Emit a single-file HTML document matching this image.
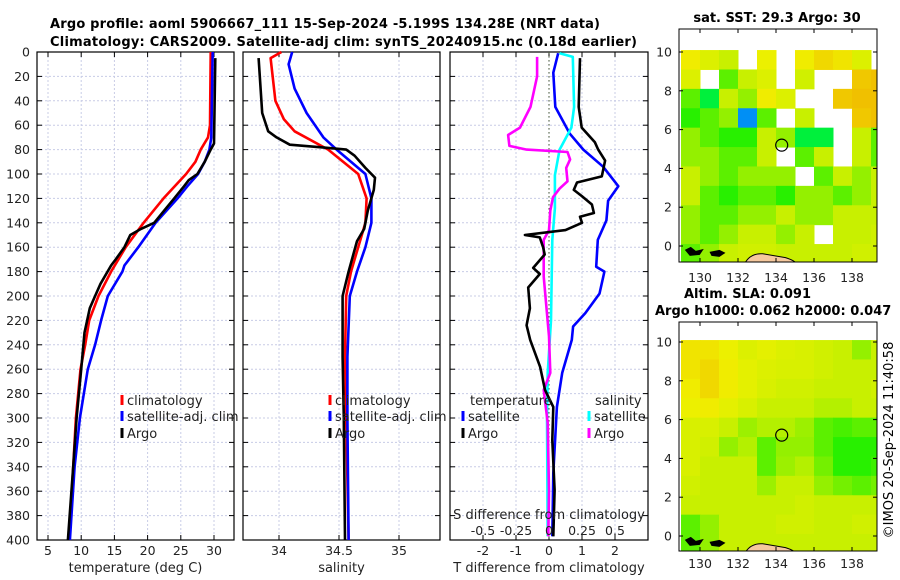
<!DOCTYPE html>
<html><head><meta charset="utf-8"><style>
html,body{margin:0;padding:0;background:#fff}
svg{display:block;font-family:"DejaVu Sans","Liberation Sans",sans-serif}
</style></head><body>
<svg id="fig" xmlns="http://www.w3.org/2000/svg" width="900" height="580" viewBox="0 0 900 580">
<text x="50" y="28" font-size="13" font-weight="bold" textLength="550">Argo profile: aoml 5906667_111 15-Sep-2024 -5.199S 134.28E (NRT data)</text>
<text x="50" y="46" font-size="13" font-weight="bold" textLength="587">Climatology: CARS2009. Satellite-adj clim: synTS_20240915.nc (0.18d earlier)</text>
<g id="p1"></g>
<g id="p2"></g>
<g id="p3"></g>
<g id="m1"></g>
<g id="m2"></g>
<text transform="translate(893,440) rotate(-90)" font-size="13" text-anchor="middle">©IMOS 20-Sep-2024 11:40:58</text>
</svg>
<script>
// ---- data ----
const depthTicks=[0,20,40,60,80,100,120,140,160,180,200,220,240,260,280,300,320,340,360,380,400];
const tTicks=[5,10,15,20,25,30];
const sTicks=[34,34.5,35];
const sTickLabels=["34","34.5","35"];
const dTTicks=[-2,-1,0,1,2];
const dSLabels=["-0.5","-0.25","0","0.25","0.5"];
const dSVals=[-0.5,-0.25,0,0.25,0.5];

const tClimD=[0,60,70,80,90,100,120,140,160,180,200,220,240,260,300,340,400];
const tClimV=[29.5,29.4,29.1,28.0,27.2,25.8,22.4,19.4,16.7,14.5,12.6,11.2,10.6,9.9,9.2,8.8,8.2];
const tSatD=[0,70,80,90,100,110,120,140,160,175,180,200,220,240,260,300,340,400];
const tSatV=[29.8,29.6,29.3,28.6,27.6,26.0,24.5,21.2,18.6,16.5,16.2,14.0,13.0,12.1,11.0,9.8,9.0,8.3];
const tArgoD=[5,75,80,90,100,105,110,120,130,140,145,150,160,170,175,190,200,210,230,260,300,340,400];
const tArgoV=[30.2,30.0,29.5,28.6,27.5,26.2,25.5,24.0,22.5,21.0,19.0,17.4,16.5,15.2,14.5,12.9,12.1,11.3,10.5,10.0,9.3,8.8,8.0];

const sClimD=[0,5,40,55,65,80,100,120,140,160,180,200,250,300,400];
const sClimV=[34.02,33.93,33.97,34.04,34.13,34.41,34.66,34.73,34.72,34.66,34.60,34.56,34.55,34.56,34.58];
const sSatD=[0,10,30,50,70,80,100,120,140,160,180,200,250,300,400];
const sSatV=[34.11,34.08,34.13,34.23,34.37,34.48,34.72,34.77,34.77,34.72,34.65,34.59,34.57,34.57,34.58];
const sArgoD=[5,50,65,70,76,78,80,85,95,103,113,130,145,155,180,200,250,300,400];
const sArgoV=[33.83,33.86,33.91,33.98,34.09,34.34,34.56,34.63,34.72,34.80,34.79,34.74,34.71,34.65,34.58,34.53,34.53,34.54,34.55];

const dTSatD=[1,17,45,67,80,94,110,122,138,154,176,180,198,214,225,236,263,291,345,397];
const dTSatV=[0.28,0.13,0.19,0.63,1.04,1.64,2.1,1.79,1.74,1.48,1.43,1.68,1.53,1.1,0.73,0.69,0.4,0.24,0.13,0.1];
const dTArgoD=[5,45,62,74,80,89,102,107,113,118,125,132,135,140,146,150,152,160,166,177,182,193,210,224,236,258,277,291,318,359,397];
const dTArgoV=[0.94,0.9,0.99,1.39,1.49,1.7,1.6,0.85,0.75,0.99,1.3,1.36,0.94,1.0,0.5,-0.73,-0.28,-0.18,-0.13,-0.48,-0.28,-0.63,-0.58,-0.68,-0.57,-0.27,-0.12,0.13,0.1,0.17,0.13];
const dSSatD=[1,4,45,62,80,101,128,154,220,263,300,397];
const dSSatV=[0.08,0.18,0.19,0.17,0.08,0.045,0.045,0.025,0.015,-0.01,-0.015,-0.01];
const dSArgoD=[4,20,45,62,68,77,80,82,88,95,106,112,119,130,146,154,184,233,263,277,304,360,397];
const dSArgoV=[-0.09,-0.09,-0.14,-0.22,-0.31,-0.3,-0.17,0.14,0.16,0.13,0.14,0.08,0.03,0.01,0.0,-0.04,-0.04,0.0,0.01,-0.04,-0.01,0.0,-0.005];

const lonTicks=[130,132,134,136,138];
const latTicks=[0,2,4,6,8,10];
const sstGrid=[
[0.7,0.65,0.6,null,0.68,null,0.7,0.75,0.72,0.65,null],
[0.65,null,0.5,0.6,0.65,null,0.62,null,null,0.78,0.8],
[0.5,0.4,0.6,0.55,0.7,0.65,null,null,0.78,0.8,0.8],
[0.45,0.5,0.55,0.3,0.5,null,0.6,null,null,0.78,0.8],
[0.55,0.5,0.45,0.45,0.6,0.55,0.4,0.4,null,0.6,0.5],
[0.55,0.55,0.5,0.5,0.6,null,0.5,0.6,null,0.6,0.5],
[0.6,0.55,0.5,0.55,0.55,0.55,null,0.5,0.6,0.55,0.6],
[0.6,0.5,0.45,0.5,0.5,0.45,0.55,0.55,0.5,0.55,0.6],
[0.55,0.5,0.5,0.55,0.55,0.6,0.55,0.55,0.6,0.6,0.6],
[0.55,0.5,0.55,0.6,0.6,0.55,0.6,null,0.6,0.6,0.62],
[0.5,0.55,0.6,0.62,0.62,0.6,0.6,0.6,0.6,0.62,0.62]];
const slaGrid=[
[0.72,0.72,0.68,0.65,0.66,0.65,0.64,0.62,0.6,0.55,0.6],
[0.72,0.75,0.7,0.66,0.65,0.64,0.64,0.62,0.6,0.6,0.6],
[0.7,0.75,0.7,0.66,0.64,0.62,0.62,0.6,0.6,0.6,0.62],
[0.68,0.7,0.66,0.64,0.6,0.6,0.6,0.58,0.58,0.6,0.6],
[0.64,0.64,0.6,0.56,0.58,0.58,0.56,0.5,0.48,0.5,0.5],
[0.64,0.62,0.55,0.58,0.5,0.55,0.55,0.5,0.45,0.45,0.45],
[0.64,0.6,0.6,0.6,0.5,0.56,0.58,0.52,0.45,0.45,0.47],
[0.62,0.6,0.6,0.6,0.56,0.6,0.6,0.55,0.52,0.5,0.52],
[0.6,0.6,0.6,0.6,0.6,0.6,0.62,0.6,0.6,0.6,0.6],
[0.5,0.55,0.6,0.6,0.6,0.62,0.62,0.6,0.6,0.62,0.62],
[0.5,0.55,0.6,0.6,0.6,0.6,0.6,0.6,0.6,0.6,0.6]];

// ---- helpers ----
const NS="http://www.w3.org/2000/svg";
function mk(parent,tag,attrs,text){const e=document.createElementNS(NS,tag);for(const k in attrs)e.setAttribute(k,attrs[k]);if(text!==undefined)e.textContent=text;parent.appendChild(e);return e;}
const PT=52,PB=540;
const yD=d=>PT+(d-0)*(PB-PT)/400;
function lin(d0,d1,r0,r1){return v=>r0+(v-d0)*(r1-r0)/(d1-d0);}

function panel(g,x0,x1,xs,ticks,labels,title){
  depthTicks.forEach(d=>{const l=mk(g,'line',{x1:x0,x2:x1,y1:yD(d),y2:yD(d),stroke:'#c8cce6','stroke-dasharray':'2,2','stroke-width':1});
    
    });
  ticks.forEach((t,i)=>{const l=mk(g,'line',{x1:xs(t),x2:xs(t),y1:PT,y2:PB,stroke:'#c8cce6','stroke-dasharray':'2,2','stroke-width':1});
    
    
    mk(g,'line',{x1:xs(t),x2:xs(t),y1:PB,y2:PB-5,stroke:'#000'});
    mk(g,'line',{x1:xs(t),x2:xs(t),y1:PT,y2:PT+5,stroke:'#000'});
    if(labels){const tx=mk(g,'text',{x:xs(t),y:555,'font-size':12.5,'text-anchor':'middle',fill:'#222'},labels[i]);
      
      }
  });
  depthTicks.forEach(d=>{mk(g,'line',{x1:x0,x2:x0+5,y1:yD(d),y2:yD(d),stroke:'#000'});mk(g,'line',{x1:x1,x2:x1-5,y1:yD(d),y2:yD(d),stroke:'#000'});});
  const r=mk(g,'rect',{x:x0,y:PT,width:x1-x0,height:PB-PT,fill:'none',stroke:'#000','stroke-width':1.2});
  
  
  const tt=mk(g,'text',{x:(x0+x1)/2,y:572,'font-size':13,'text-anchor':'middle',fill:'#222'},title);
  
  
}
function series(g,ds,vs,xs,color,name){
  const pts=ds.map((d,i)=>xs(vs[i]).toFixed(1)+','+yD(d).toFixed(1)).join(' ');
  const p=mk(g,'polyline',{points:pts,fill:'none',stroke:color,'stroke-width':2.6,'stroke-linejoin':'round'});
  
  
}
function legend(g,x,y,color,label){
  mk(g,'line',{x1:x,x2:x,y1:y-10,y2:y,stroke:color,'stroke-width':3});
  const t=mk(g,'text',{x:x+5,y:y,'font-size':13,fill:'#222'},label);
  
  
}

const fig=document.getElementById('fig');
depthTicks.forEach(d=>{const t=mk(fig,'text',{x:30,y:yD(d)+4.5,'font-size':12.5,'text-anchor':'end',fill:'#222'},String(d));
  
  });

const g1=document.getElementById('p1');
const xT=lin(5,30,48,214);
panel(g1,37,234,xT,tTicks,tTicks.map(String),'temperature (deg C)');
series(g1,tClimD,tClimV,xT,'#ff0000','temp-climatology-line');
series(g1,tSatD,tSatV,xT,'#0000ff','temp-satellite-line');
series(g1,tArgoD,tArgoV,xT,'#000000','temp-argo-line');
legend(g1,122,405,'#ff0000','climatology');
legend(g1,122,421,'#0000ff','satellite-adj. clim');
legend(g1,122,438,'#000000','Argo');

const g2=document.getElementById('p2');
const xS=lin(34,35,279,399);
panel(g2,243,440,xS,sTicks,sTickLabels,'salinity');
series(g2,sClimD,sClimV,xS,'#ff0000','sal-climatology-line');
series(g2,sSatD,sSatV,xS,'#0000ff','sal-satellite-line');
series(g2,sArgoD,sArgoV,xS,'#000000','sal-argo-line');
legend(g2,330,405,'#ff0000','climatology');
legend(g2,330,421,'#0000ff','satellite-adj. clim');
legend(g2,330,438,'#000000','Argo');

const g3=document.getElementById('p3');
const xDT=lin(0,1,549,582);
const xDS=lin(0,0.25,549,582);
panel(g3,450,648,xDT,dTTicks,dTTicks.map(String),'T difference from climatology');
mk(g3,'line',{x1:549,x2:549,y1:PT,y2:PB,stroke:'#445533','stroke-dasharray':'1.5,2.5','stroke-width':1});
series(g3,dTSatD,dTSatV,xDT,'#0000ff','dT-satellite-line');
series(g3,dSSatD,dSSatV,xDS,'#00ffff','dS-satellite-line');
series(g3,dSArgoD,dSArgoV,xDS,'#ff00ff','dS-argo-line');
series(g3,dTArgoD,dTArgoV,xDT,'#000000','dT-argo-line');
const lh1=mk(g3,'text',{x:470,y:405,'font-size':13,fill:'#222'},'temperature');


const lh2=mk(g3,'text',{x:595,y:405,'font-size':13,fill:'#222'},'salinity');


legend(g3,463,421,'#0000ff','satellite');
legend(g3,463,438,'#000000','Argo');
legend(g3,589,421,'#00ffff','satellite');
legend(g3,589,438,'#ff00ff','Argo');
const st=mk(g3,'text',{x:549,y:519,'font-size':13,'text-anchor':'middle',fill:'#222'},'S difference from climatology');


dSVals.forEach((v,i)=>{const t=mk(g3,'text',{x:xDS(v),y:535,'font-size':12.5,'text-anchor':'middle',fill:'#222'},dSLabels[i]);
  
  });

function colorOf(v){
  let h;
  if(v<0.33)h=205;
  else if(v<0.45)h=110+(0.45-v)*500;
  else if(v<0.6)h=70+(0.6-v)*267;
  else h=70-(v-0.6)*110;
  return 'hsl('+h.toFixed(0)+',100%,'+(v<0.4?48:47)+'%)';
}
function map(g,grid,top,bottom,lat10y,lat0y,labY){
  const xL=lin(130,138,700,852), yL=lin(0,10,lat0y,lat10y);
  const cp='clip'+top;
  const defs=mk(g,'defs',{});const c=mk(defs,'clipPath',{id:cp});mk(c,'rect',{x:679,y:top,width:198,height:bottom-top});
  const cg=mk(g,'g',{'clip-path':'url(#'+cp+')'});
  grid.forEach((row,r)=>row.forEach((v,c2)=>{
    if(v===null)return;
    const lon=129+c2, lat=10.1-r;
    const x=xL(lon),y=yL(lat),w=xL(lon+1)-x+0.5,h=yL(lat-1)-y+0.5;
    const rc=mk(cg,'rect',{x:x,y:y,width:w,height:h,fill:colorOf(v)});
    
    
  }));
  const land=mk(cg,'path',{d:'M'+xL(132.3)+','+yL(-1)+' Q'+xL(132.6)+','+yL(-0.35)+' '+xL(133.3)+','+yL(-0.4)+' L'+xL(134.5)+','+yL(-0.6)+' Q'+xL(135)+','+yL(-0.75)+' '+xL(135.2)+','+yL(-1)+' Z',fill:'#f5c89e',stroke:'#000','stroke-width':1});
  
  
  mk(cg,'path',{d:'M'+xL(129.2)+','+yL(-0.2)+' l6,-3 l5,4 l8,-2 l-4,6 l-10,1 z M'+xL(130.5)+','+yL(-0.3)+' l10,-2 l6,3 l-6,4 l-8,-1 z',fill:'#000'});
  const mk1=mk(g,'circle',{cx:xL(134.3),cy:yL(5.2),r:6,fill:'none',stroke:'#000','stroke-width':1.2});
  
  
  const fr=mk(g,'rect',{x:679,y:top,width:198,height:bottom-top,fill:'none',stroke:'#000','stroke-width':1});
  
  
  lonTicks.forEach(l=>{mk(g,'line',{x1:xL(l),x2:xL(l),y1:bottom,y2:bottom-4,stroke:'#000'});mk(g,'line',{x1:xL(l),x2:xL(l),y1:top,y2:top+4,stroke:'#000'});
    const t=mk(g,'text',{x:xL(l),y:labY,'font-size':12.5,'text-anchor':'middle',fill:'#222'},String(l));
    
    });
  latTicks.forEach(l=>{mk(g,'line',{x1:679,x2:683,y1:yL(l),y2:yL(l),stroke:'#000'});mk(g,'line',{x1:877,x2:873,y1:yL(l),y2:yL(l),stroke:'#000'});
    const t=mk(g,'text',{x:672,y:yL(l)+4.5,'font-size':12.5,'text-anchor':'end',fill:'#222'},String(l));
    
    });
}
const m1=document.getElementById('m1'),m2=document.getElementById('m2');
map(m1,sstGrid,29,262,52,246,282);
map(m2,slaGrid,322,551,342,536,568);
[[m1,777,22,'sat. SST: 29.3 Argo: 30','sst-map-title','middle'],[m2,684,298,'Altim. SLA: 0.091','sla-map-title','start'],[m2,655,315,'Argo h1000: 0.062 h2000: 0.047','argo-height-title','start']].forEach(a=>{
  const t=mk(a[0],'text',{x:a[1],y:a[2],'font-size':13,'font-weight':'bold','text-anchor':a[5],fill:'#000'},a[3]);
  
  
});
</script>
</body></html>
